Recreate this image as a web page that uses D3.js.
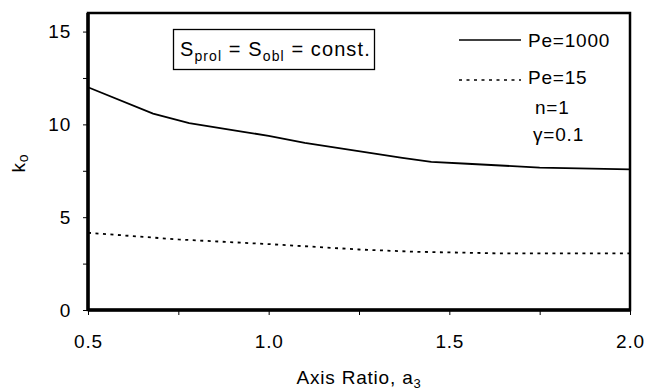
<!DOCTYPE html>
<html>
<head>
<meta charset="utf-8">
<script src="https://cdn.jsdelivr.net/npm/d3@7"></script>
<style>
  body { margin: 0; background: #fff; }
  .chart text { font-family: Arial, "Liberation Sans", sans-serif; fill: #000; letter-spacing: 0.8px; }
</style>
</head>
<body>
<div class="chart" id="chart"></div>
<script>
// data
const pe1000X = [0.5, 0.68, 0.78, 0.93, 1.0, 1.1, 1.28, 1.37, 1.45, 1.55, 1.75, 2.0];
const pe1000Y = [12.0, 10.58, 10.07, 9.6, 9.38, 9.0, 8.46, 8.2, 7.98, 7.88, 7.67, 7.58];
const pe15X = [0.5, 0.75, 1.0, 1.25, 1.4, 1.64, 2.0];
const pe15Y = [4.16, 3.8, 3.55, 3.26, 3.14, 3.05, 3.05];
const xTicks = [0.5, 0.75, 1.0, 1.25, 1.5, 1.75, 2.0];
const xLabels = [0.5, 1.0, 1.5, 2.0];
const yTicks = [0, 2.5, 5, 7.5, 10, 12.5, 15];
const yLabels = [0, 5, 10, 15];

const W = 657, H = 392;
const margin = { top: 13, right: 27, bottom: 82, left: 88 };
const width = W - margin.left - margin.right;
const height = H - margin.top - margin.bottom;
const fs = 19;

const svg = d3.select('#chart').append('svg')
    .attr('width', W).attr('height', H);
const g = svg.append('g')
    .attr('transform', 'translate(' + margin.left + ',' + margin.top + ')');

const x = d3.scaleLinear().domain([0.5, 2.0]).range([0, width]);
const y = d3.scaleLinear().domain([0, 16]).range([height, 0]);

// ticks (outward, labels only on majors)
g.append('g')
    .attr('transform', 'translate(0,' + height + ')')
    .call(d3.axisBottom(x).tickValues(xTicks).tickSize(5)
      .tickFormat(d => xLabels.includes(d) ? d3.format('.1f')(d) : ''))
    .call(a => a.select('.domain').remove())
    .call(a => a.selectAll('text').attr('font-size', fs).attr('y', 0).attr('dy', 38));

g.append('g')
    .call(d3.axisLeft(y).tickValues(yTicks).tickSize(5)
      .tickFormat(d => yLabels.includes(d) ? d : ''))
    .call(a => a.select('.domain').remove())
    .call(a => a.selectAll('text').attr('font-size', fs).attr('x', -17));

// frame
g.append('rect')
    .attr('width', width).attr('height', height)
    .attr('fill', 'none').attr('stroke', '#000').attr('stroke-width', 2.5);
g.append('line').attr('x1', 0).attr('x2', 0).attr('y1', 0).attr('y2', height)
    .attr('stroke', '#000').attr('stroke-width', 3.5);
g.append('line').attr('x1', 0).attr('x2', width).attr('y1', height).attr('y2', height)
    .attr('stroke', '#000').attr('stroke-width', 3.5);

const line = d3.line().x(d => x(d[0])).y(d => y(d[1]));

g.append('path')
    .datum(d3.zip(pe1000X, pe1000Y))
    .attr('d', line)
    .attr('fill', 'none').attr('stroke', '#000').attr('stroke-width', 1.8);

g.append('path')
    .datum(d3.zip(pe15X, pe15Y))
    .attr('d', line)
    .attr('fill', 'none').attr('stroke', '#000').attr('stroke-width', 1.8)
    .attr('stroke-dasharray', '3,4.5');

// legend
svg.append('line').attr('x1', 459).attr('x2', 521).attr('y1', 40).attr('y2', 40)
    .attr('stroke', '#000').attr('stroke-width', 1.5);
svg.append('line').attr('x1', 459).attr('x2', 521).attr('y1', 80).attr('y2', 80)
    .attr('stroke', '#000').attr('stroke-width', 1.5).attr('stroke-dasharray', '3,4.5');
svg.append('text').attr('x', 528).attr('y', 47).attr('font-size', fs).text('Pe=1000');
svg.append('text').attr('x', 528).attr('y', 84).attr('font-size', fs).text('Pe=15');
svg.append('text').attr('x', 535).attr('y', 114).attr('font-size', fs).text('n=1');
svg.append('text').attr('x', 533).attr('y', 141).attr('font-size', fs).text('γ=0.1');

// annotation box
svg.append('rect').attr('x', 173.5).attr('y', 29.5).attr('width', 201).attr('height', 40)
    .attr('fill', '#fff').attr('stroke', '#000').attr('stroke-width', 1.3);
const ann = svg.append('text').attr('x', 180).attr('y', 56).attr('font-size', 20)
    .style('letter-spacing', '1.1px');
ann.append('tspan').text('S');
ann.append('tspan').attr('font-size', 14).attr('dy', 5).text('prol');
ann.append('tspan').attr('dy', -5).text(' = S');
ann.append('tspan').attr('font-size', 14).attr('dy', 5).text('obl');
ann.append('tspan').attr('dy', -5).text(' = const.');

// axis titles
const xt = svg.append('text').attr('x', margin.left + width / 2).attr('y', 384)
    .attr('text-anchor', 'middle').attr('font-size', fs);
xt.append('tspan').text('Axis Ratio, a');
xt.append('tspan').attr('font-size', 13).attr('dy', 4).text('3');

const yt = svg.append('text')
    .attr('transform', 'translate(25,163) rotate(-90)')
    .attr('text-anchor', 'middle').attr('font-size', fs);
yt.append('tspan').text('k');
yt.append('tspan').attr('font-size', 14).attr('dy', 3).text('o');
</script>
</body>
</html>
